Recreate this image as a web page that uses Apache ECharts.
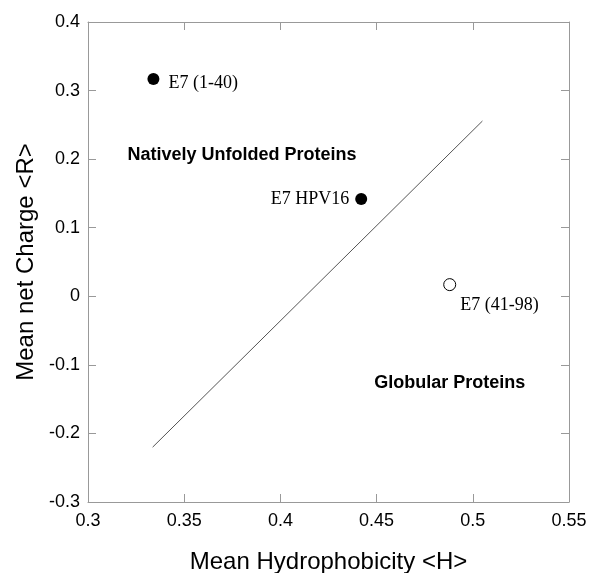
<!DOCTYPE html>
<html>
<head>
<meta charset="utf-8">
<script src="https://cdn.jsdelivr.net/npm/echarts@6/dist/echarts.min.js"></script>
<style>
  html, body { margin: 0; padding: 0; background: #fff; }
  #chart { width: 589px; height: 573px; }
</style>
</head>
<body>
<div id="chart"></div>
<script>
// 数据点（平均疏水性 / 平均净电荷）
const pointNames = ['E7 (1-40)', 'E7 HPV16', 'E7 (41-98)']
const hydrophobicity = [0.334, 0.442, 0.488]
const netCharge = [0.317, 0.142, 0.017]
const filled = [true, true, false]

// 分界线端点
const boundaryH = [0.3336, 0.505]
const boundaryR = [-0.220, 0.2556]

// 区域文字
const regionNames = ['Natively Unfolded Proteins', 'Globular Proteins']
const regionH = [0.380, 0.488]
const regionR = [0.206, -0.1265]

// 刻度
const xMin = 0.3, xMax = 0.55, xStep = 0.05
const yMin = -0.3, yMax = 0.4, yStep = 0.1

const axisColor = '#999'
const serif = '"Liberation Serif", "Times New Roman", serif'
const sans = '"Liberation Sans", Arial, sans-serif'

// 每个点的标签位置
const labelCfg = [
  { position: 'right', distance: 9, offset: [0, 4] },
  { position: 'left', distance: 6 },
  { position: [17, 18], align: 'left', verticalAlign: 'top' }
]

const pointData = pointNames.map((name, i) => ({
  name,
  value: [hydrophobicity[i], netCharge[i]],
  itemStyle: filled[i]
    ? { color: '#000', opacity: 1 }
    : { color: '#fff', borderColor: '#000', borderWidth: 1, opacity: 1 },
  label: Object.assign({ show: true, formatter: name }, labelCfg[i])
}))

const regionData = regionNames.map((name, i) => ({
  name,
  value: [regionH[i], regionR[i]]
}))

const axisLine = { show: true, onZero: false, lineStyle: { color: axisColor } }
const axisTick = { show: true, inside: true, length: 8, lineStyle: { color: axisColor } }

const chart = echarts.init(document.getElementById('chart'))

const option = {
  animation: false,
  backgroundColor: '#fff',
  grid: { left: 88, top: 22, width: 481, height: 480, outerBoundsMode: 'none', containLabel: false },
  xAxis: [
    {
      type: 'value',
      position: 'bottom',
      min: xMin, max: xMax, interval: xStep,
      name: 'Mean Hydrophobicity <H>',
      nameLocation: 'middle',
      nameGap: 48,
      nameTextStyle: { fontFamily: sans, fontSize: 24, color: '#000' },
      axisLine, axisTick,
      axisLabel: { fontFamily: sans, fontSize: 18, color: '#000', margin: 10 },
      splitLine: { show: false }
    },
    {
      type: 'value',
      position: 'top',
      min: xMin, max: xMax, interval: xStep,
      axisLine, axisTick,
      axisLabel: { show: false },
      splitLine: { show: false }
    }
  ],
  yAxis: [
    {
      type: 'value',
      position: 'left',
      min: yMin, max: yMax, interval: yStep,
      name: 'Mean net Charge <R>',
      nameLocation: 'middle',
      nameGap: 48,
      nameTextStyle: { fontFamily: sans, fontSize: 24, color: '#000' },
      axisLine, axisTick,
      axisLabel: { fontFamily: sans, fontSize: 18, color: '#000', margin: 8 },
      splitLine: { show: false }
    },
    {
      type: 'value',
      position: 'right',
      min: yMin, max: yMax, interval: yStep,
      axisLine, axisTick,
      axisLabel: { show: false },
      splitLine: { show: false }
    }
  ],
  series: [
    {
      name: 'boundary',
      type: 'line',
      data: boundaryH.map((h, i) => [h, boundaryR[i]]),
      symbol: 'none',
      lineStyle: { color: '#555', width: 1 }
    },
    {
      name: 'points',
      type: 'scatter',
      symbol: 'circle',
      symbolSize: 12,
      data: pointData,
      label: { fontFamily: serif, fontSize: 18, color: '#000' }
    },
    {
      name: 'regions',
      type: 'scatter',
      symbolSize: 1,
      itemStyle: { color: 'rgba(0,0,0,0)', opacity: 1 },
      data: regionData,
      label: {
        show: true,
        position: 'inside',
        formatter: '{b}',
        fontFamily: sans,
        fontWeight: 'bold',
        fontSize: 18,
        color: '#000'
      }
    }
  ]
}

chart.setOption(option)
</script>
</body>
</html>
